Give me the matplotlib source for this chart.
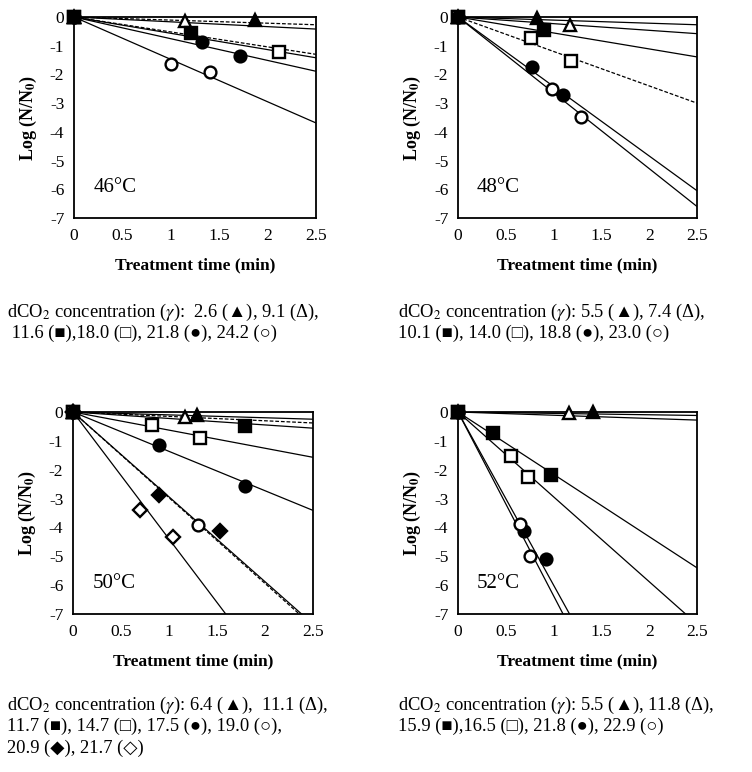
import numpy as np
import matplotlib
matplotlib.use("Agg")
import matplotlib.pyplot as plt

plt.rcParams['font.family'] = ['Liberation Serif', 'DejaVu Sans']
plt.rcParams['mathtext.fontset'] = 'stix'
plt.rcParams['axes.unicode_minus'] = False

# marker order in every panel: ▲, Δ, ■, □, ●, ○, (◆, ◇)
markers = ['^', '^', 's', 's', 'o', 'o', 'D', 'D']
filled = [True, False, True, False, True, False, True, False]

# 46 °C
t46 = [[0, 1.87], [0, 1.15], [0, 1.21], [0, 2.12], [0, 1.32, 1.71], [0, 1.00, 1.40]]
y46 = [[0, -0.10], [0, -0.15], [0, -0.56], [0, -1.23], [0, -0.88, -1.35], [0, -1.64, -1.90]]
k46 = [-0.108, -0.168, -0.52, -0.568, -0.756, -1.476]
d46 = [True, False, True, False, False, False]

# 48 °C
t48 = [[0, 0.83], [0, 1.17], [0, 0.90], [0, 0.76, 1.18], [0, 0.77, 1.10], [0, 0.98, 1.29]]
y48 = [[0, -0.02], [0, -0.27], [0, -0.47], [0, -0.74, -1.52], [0, -1.75, -2.72], [0, -2.51, -3.47]]
k48 = [-0.108, -0.232, -0.556, -1.20, -2.42, -2.64]
d48 = [False, False, False, True, False, False]

# 50 °C
t50 = [[0, 1.29], [0, 1.17], [0, 1.79], [0, 0.82, 1.32], [0, 0.90, 1.79], [0, 1.30],
       [0, 0.90, 1.53], [0, 0.70, 1.04]]
y50 = [[0, -0.09], [0, -0.17], [0, -0.47], [0, -0.44, -0.91], [0, -1.15, -2.56], [0, -3.92],
       [0, -2.87, -4.14], [0, -3.41, -4.34]]
k50 = [-0.10, -0.152, -0.224, -0.628, -1.364, -2.97, -2.94, -4.40]
d50 = [False, True, False, False, False, True, False, False]

# 52 °C
t52 = [[0, 1.41], [0, 1.16], [0, 0.37, 0.97], [0, 0.55, 0.73], [0, 0.69, 0.92], [0, 0.65, 0.75]]
y52 = [[0, 0.0], [0, -0.02], [0, -0.74, -2.18], [0, -1.51, -2.24], [0, -4.12, -5.09], [0, -3.89, -4.98]]
k52 = [-0.048, -0.112, -2.16, -2.94, -6.00, -6.37]
d52 = [False, False, False, False, False, False]

temps = ['46°C', '48°C', '50°C', '52°C']
# series whose marker sits on top at the origin
top = [2, 4, 6, 2]

cap46 = [r"dCO$_2$ concentration ($\gamma$):  2.6 (▲), 9.1 (Δ),",
         " 11.6 (■),18.0 (□), 21.8 (●), 24.2 (○)"]
cap48 = [r"dCO$_2$ concentration ($\gamma$): 5.5 (▲), 7.4 (Δ),",
         "10.1 (■), 14.0 (□), 18.8 (●), 23.0 (○)"]
cap50 = [r"dCO$_2$ concentration ($\gamma$): 6.4 (▲),  11.1 (Δ),",
         "11.7 (■), 14.7 (□), 17.5 (●), 19.0 (○),",
         "20.9 (◆), 21.7 (◇)"]
cap52 = [r"dCO$_2$ concentration ($\gamma$): 5.5 (▲), 11.8 (Δ),",
         "15.9 (■),16.5 (□), 21.8 (●), 22.9 (○)"]

xticks = [0, 0.5, 1, 1.5, 2, 2.5]
xticklabels = ['0', '0.5', '1', '1.5', '2', '2.5']
yticks = [0, -1, -2, -3, -4, -5, -6, -7]

fig = plt.figure(figsize=(7.52, 7.72), dpi=100)
W, H = 752, 772

# axes boxes in pixels: left, top, right, bottom
boxes = [(74, 17, 316, 218), (458, 17, 697, 218), (73, 412, 313, 614), (458, 412, 697, 614)]
panels = [(t46, y46, k46, d46), (t48, y48, k48, d48), (t50, y50, k50, d50), (t52, y52, k52, d52)]
caps = [cap46, cap48, cap50, cap52]
cap_pos = [(7, 312), (398, 312), (7, 705), (398, 705)]

tline = np.array([0, 2.5])
for i, (box, (ts, ys, ks, ds)) in enumerate(zip(boxes, panels)):
    l, tp, r, b = box
    ax = fig.add_axes([l / W, 1 - b / H, (r - l) / W, (b - tp) / H])
    for j in range(len(ts)):
        ls = (0, (3, 1.5)) if ds[j] else '-'
        ax.plot(tline, ks[j] * tline, color='black', lw=0.9, ls=ls, zorder=2)
    for j in range(len(ts)):
        ax.plot(ts[j], ys[j], ls='none', marker=markers[j], ms=8.5 if markers[j] != 'D' else 7.5,
                mfc='black' if filled[j] else 'white', mec='black', mew=1.7,
                zorder=4 if j == top[i] else 3, clip_on=False)
    ax.set_xlim(0, 2.5)
    ax.set_ylim(-7, 0)
    ax.set_xticks(xticks)
    ax.set_xticklabels(xticklabels)
    ax.set_yticks(yticks)
    ax.set_yticklabels([str(v) for v in yticks])
    ax.tick_params(length=0, labelsize=12.5, pad=7)
    for sp in ax.spines.values():
        sp.set_linewidth(1.3)
    ax.set_xlabel('Treatment time (min)', fontsize=12.5, fontweight='bold', labelpad=10)
    ax.set_ylabel(r'Log (N/N$_\mathbf{0}$)', fontsize=13, fontweight='bold', labelpad=8)
    ax.text(0.08, 0.13, temps[i], transform=ax.transAxes, fontsize=15)

    cx, cy = cap_pos[i]
    for n, line in enumerate(caps[i]):
        fig.text(cx / W, 1 - (cy + n * 21.5) / H, line, fontsize=13.3, va='center', ha='left')

fig.savefig('out.png', dpi=100)
